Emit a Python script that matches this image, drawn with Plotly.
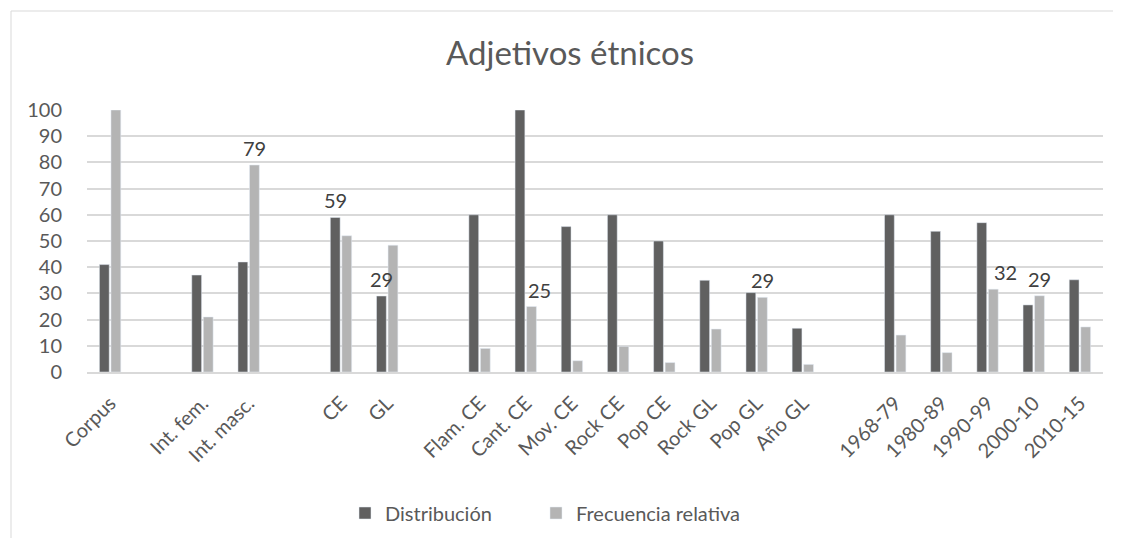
import plotly.graph_objects as go

categories = ["Corpus", " ", "Int. fem.", "Int. masc.", "  ", "CE", "GL", "   ",
              "Flam. CE", "Cant. CE", "Mov. CE", "Rock CE", "Pop CE", "Rock GL", "Pop GL", "Año GL",
              "    ", "1968-79", "1980-89", "1990-99", "2000-10", "2010-15"]
distribucion = [41, None, 37, 42, None, 59, 29, None,
                60, 100, 55.5, 60, 50, 35, 30.3, 16.7,
                None, 60, 53.7, 57, 25.6, 35.2]
frecuencia = [100, None, 21, 79, None, 52, 48.4, None,
              9, 25, 4.3, 9.8, 3.6, 16.4, 28.5, 2.9,
              None, 14.1, 7.4, 31.6, 29.1, 17.2]
dist_labels = ["", "", "", "", "", "59", "29", "",
               "", "", "", "", "", "", "", "",
               "", "", "", "", "", ""]
frec_labels = ["", "", "", "79", "", "", "", "",
               "", "25", "", "", "", "", "29", "",
               "", "", "", "32", "29", ""]

FONT = "Lato, 'Open Sans', sans-serif"
GRAY = "#595959"

fig = go.Figure()
fig.add_trace(go.Bar(x=categories, y=distribucion, name="Distribución",
                     marker=dict(color="#606060"), legend="legend"))
fig.add_trace(go.Bar(x=categories, y=frecuencia, name="Frecuencia relativa",
                     marker=dict(color="#b4b4b4"), legend="legend2"))

# small horizontal nudges of some labels, as in the original chart
label_nudge = {"Cant. CE": 8, "1990-99": 12}

# data labels drawn on top of the bars, anchored to the values of each series
for labels, values, shift in ((dist_labels, distribucion, -6), (frec_labels, frecuencia, 6)):
    for cat, lab, val in zip(categories, labels, values):
        if lab:
            fig.add_annotation(x=cat, y=val, text=lab, showarrow=False,
                               xshift=shift + label_nudge.get(cat, 0), yanchor="bottom", yshift=3,
                               font=dict(size=20, color="#404040", family=FONT))

legend_common = dict(orientation="h", yanchor="middle", xanchor="left",
                     xref="container", yref="container", y=1 - (513 - 8) / 530,
                     font=dict(size=20, color=GRAY, family=FONT), itemwidth=30,
                     bgcolor="rgba(0,0,0,0)")

fig.update_layout(
    width=1113, height=530,
    margin=dict(l=79, r=18, t=102, b=166),
    paper_bgcolor="white", plot_bgcolor="white",
    barmode="group", bargap=0.5, bargroupgap=0.15,
    font=dict(family=FONT, color=GRAY, size=19),
    title=dict(text="Adjetivos étnicos", x=0.505, xanchor="center", y=0.915, yanchor="middle",
               font=dict(size=33, color=GRAY, family=FONT)),
    showlegend=True,
    legend=dict(x=(345 - 8) / 1113, **legend_common),
    legend2=dict(x=(536 - 8) / 1113, **legend_common),
    xaxis=dict(type="category", tickangle=-45, showgrid=False, ticks="",
               showline=True, linecolor="#d9d9d9", linewidth=1.5,
               ticklabelstandoff=10, automargin=False,
               tickfont=dict(size=20, color=GRAY, family=FONT)),
    yaxis=dict(range=[0, 100], dtick=10, showgrid=True, gridcolor="#d9d9d9", gridwidth=1.5,
               zeroline=False, ticks="", ticklabelstandoff=24, automargin=False,
               tickfont=dict(size=20, color=GRAY, family=FONT)),
)

fig.add_shape(type="rect", xref="paper", yref="paper",
              x0=(11 - 87) / 1016, x1=1.1, y0=-1.0, y1=1 + (110 - 11) / 262,
              line=dict(color="#d9d9d9", width=1), fillcolor="rgba(0,0,0,0)", layer="below")

fig.write_html("out.html")
